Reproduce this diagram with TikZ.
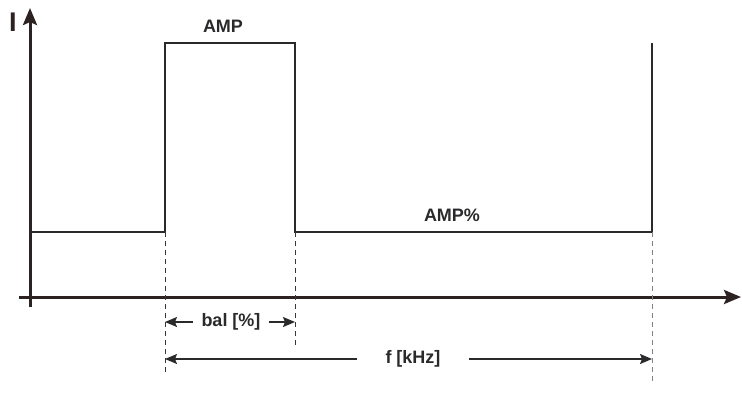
\documentclass[tikz,border=0pt]{standalone}
\usepackage{fontspec}
\setmainfont{Liberation Sans}
\usetikzlibrary{arrows.meta}
\definecolor{ax}{RGB}{45,34,34}
\definecolor{sig}{RGB}{42,42,44}
\definecolor{dsh}{RGB}{55,55,58}
\definecolor{dshl}{RGB}{130,130,134}

\begin{document}
\begin{tikzpicture}[x=1pt,y=-1pt,
    axis/.style={line width=3pt,ax,-{Stealth[length=17pt,width=14pt,inset=3pt]}},
    signal/.style={line width=1.5pt,sig,line join=miter},
    guide/.style={line width=1pt,dsh,dash pattern=on 5pt off 4pt},
    dim/.style={line width=1.4pt,sig,-{Stealth[length=12pt,width=10pt,inset=2pt]}},
    lbl/.style={font=\bfseries\fontsize{18}{20}\selectfont,text=sig,inner sep=0pt}]
    \useasboundingbox (0,0) rectangle (742,392);
    \coordinate (yb) at (30,307);
    \coordinate (yt) at (30,8);
    \coordinate (xl) at (19,297);
    \coordinate (xr) at (741,297);
    \draw[axis] (yb) -- (yt);
    \draw[axis] (xl) -- (xr);
    \node[lbl,font=\bfseries\fontsize{27}{29}\selectfont,text=ax] (ilbl) at (13,22) {I};
    \coordinate (b0) at (30,232);
    \coordinate (r1) at (165,232);
    \coordinate (r1t) at (165,43);
    \coordinate (f1t) at (295,43);
    \coordinate (f1) at (295,232);
    \coordinate (r2) at (652,232);
    \coordinate (r2t) at (652,43);
    \draw[signal] (b0) -- (r1) -- (r1t) -- (f1t) -- (f1) -- (r2) -- (r2t);
    \coordinate (r1d) at (165,372);
    \coordinate (f1d) at (295,348);
    \coordinate (r2d) at (652,382);
    \draw[guide] (r1) -- (r1d);
    \draw[guide] (f1) -- (f1d);
    \draw[guide,dshl] (r2) -- (r2d);
    \node[lbl] (amp) at (223,26) {AMP};
    \node[lbl] (amppc) at (452,215) {AMP\%};
    \node[lbl,inner xsep=8pt] (bal) at (231,322) {bal [\%]};
    \draw[dim] (bal.west) -- (bal.west -| r1);
    \draw[dim] (bal.east) -- (bal.east -| f1);
    \node[lbl,inner xsep=28pt] (freq) at (413,359) {f [kHz]};
    \draw[dim] (freq.west) -- (freq.west -| r1);
    \draw[dim] (freq.east) -- (freq.east -| r2);
  \end{tikzpicture}
\end{document}
